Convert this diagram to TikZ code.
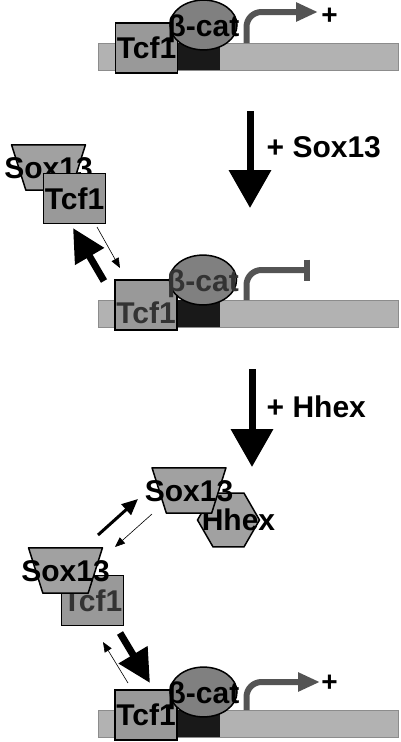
\documentclass[tikz,border=0pt]{standalone}
\usepackage{fontspec}
\setmainfont{Liberation Sans}
\usepackage{tikz}
\usetikzlibrary{shapes.geometric, arrows.meta}
\newcommand{\prot}{\fontsize{30}{30}\selectfont\bfseries}
\newcommand{\nw}[1]{\makebox[0pt]{#1}}
\tikzstyle{dna} = [rectangle, minimum width=300pt, minimum height=27pt, inner sep=0pt, draw=black!45, fill=black!30]
\tikzstyle{site} = [rectangle, minimum width=43pt, minimum height=27pt, inner sep=0pt, fill=black!90]
\tikzstyle{tcf} = [rectangle, minimum width=62pt, minimum height=50pt, inner sep=0pt, draw=black, line width=1.5pt, fill=black!40, font=\prot]
\tikzstyle{cat} = [ellipse, minimum width=67pt, minimum height=47pt, inner sep=0pt, text height=29pt, draw=black, line width=1.5pt, fill=black!50, font=\prot]
\tikzstyle{sox} = [trapezium, trapezium left angle=72.5, trapezium right angle=72.5, shape border rotate=180, text width=45pt, text height=33.5pt, text depth=11.5pt, align=center, inner sep=0pt, fill=black!37, font=\prot]
\tikzstyle{soxrim} = [line width=1.5pt, line join=round]
\tikzstyle{hhex} = [regular polygon, regular polygon sides=6, minimum size=62pt, inner sep=0pt, draw=black, line width=1.5pt, fill=black!37, font=\prot]
\tikzstyle{tss} = [line width=6pt, black!67, rounded corners=15pt]
\tikzstyle{bigdown} = [line width=7pt, -{Triangle[length=38pt,width=41pt]}]
\tikzstyle{thickarr} = [line width=7pt, -{Triangle[length=33pt,width=32pt]}]
\tikzstyle{midarr} = [line width=3pt, -{Triangle[length=16pt,width=14pt]}]
\tikzstyle{thinarr} = [line width=0.6pt, -{Triangle[length=10pt,width=8pt]}]
\tikzstyle{plus} = [inner sep=0pt, font=\fontsize{28}{28}\selectfont\bfseries]
\tikzstyle{addlabel} = [anchor=west, inner sep=0pt, font=\prot]

\begin{document}
\begin{tikzpicture}[x=1pt, y=-1pt]
    \useasboundingbox (0,0) rectangle (400,742);

    % Promoter, active
    \node[dna] (dna1) at (248, 56.5) {};
    \node[site] (site1) at (198.5, 56.5) {};
    \node[tcf] (tcf1) at (146.5, 48) {Tcf1};
    \node[cat] (cat1) at (203.5, 25) {\nw{β-cat}};
    \coordinate (tss1) at (246.5, 43);
    \coordinate (on1) at (318, 12);
    \draw[tss, -{Triangle[length=22pt,width=18pt]}] (tss1) |- (on1);
    \node[plus] (plus1) at (329.5, 16) {+};

    % + Sox13
    \coordinate (d1a) at (250, 111);
    \coordinate (d1b) at (250, 208);
    \draw[bigdown] (d1a) -- (d1b);
    \node[addlabel] (addsox) at (266.5, 147) {+ Sox13};

    % Sox13 takes Tcf1 off
    \node[sox] (sox2) at (48.5, 167.5) {\nw{Sox13}};
    \draw[soxrim] (sox2.bottom left corner) -- (sox2.top left corner) -- (sox2.top right corner) -- (sox2.bottom right corner) -- cycle;
    \node[tcf] (tcf2b) at (74.5, 198.5) {Tcf1};

    \node[dna] (dna2) at (248, 313.5) {};
    \node[site] (site2) at (198.5, 313.5) {};
    \node[tcf, text=black!80, text height=38pt] (tcf2a) at (146, 305) {Tcf1};
    \node[cat, text=black!80] (cat2) at (203, 280) {\nw{β-cat}};
    \coordinate (tss2) at (246.5, 300);
    \coordinate (off2) at (310, 270);
    \draw[tss, -{Bar[width=21pt]}] (tss2) |- (off2);

    \coordinate (out2a) at (104, 281);
    \coordinate (out2b) at (73, 228);
    \draw[thickarr] (out2a) -- (out2b);
    \coordinate (in2a) at (97, 227);
    \coordinate (in2b) at (120, 268);
    \draw[thinarr] (in2a) -- (in2b);

    % + Hhex
    \coordinate (d2a) at (252, 369);
    \coordinate (d2b) at (252, 467);
    \draw[bigdown] (d2a) -- (d2b);
    \node[addlabel] (addhhex) at (266.5, 407) {+ Hhex};

    % Hhex pulls Sox13 away
    \node[hhex] (hhex3) at (228.5, 520) {\nw{\hspace*{20pt}Hhex}};
    \node[sox] (sox3a) at (189, 490.5) {\nw{Sox13}};
    \draw[soxrim] (sox3a.bottom left corner) -- (sox3a.top left corner) -- (sox3a.top right corner) -- (sox3a.bottom right corner) -- cycle;

    \node[tcf, text=black!80] (tcf3b) at (92.5, 600.5) {Tcf1};
    \node[sox] (sox3b) at (65.5, 570.5) {\nw{Sox13}};
    \draw[soxrim] (sox3b.bottom left corner) -- (sox3b.top left corner) -- (sox3b.top right corner) -- (sox3b.bottom right corner) -- cycle;

    \coordinate (up3a) at (98, 535);
    \coordinate (up3b) at (138, 499);
    \draw[midarr] (up3a) -- (up3b);
    \coordinate (back3a) at (152, 514);
    \coordinate (back3b) at (115, 547);
    \draw[thinarr] (back3a) -- (back3b);

    \coordinate (on3a) at (120, 633);
    \coordinate (on3b) at (150, 683);
    \draw[thickarr] (on3a) -- (on3b);
    \coordinate (off3a) at (128, 683);
    \coordinate (off3b) at (103, 642);
    \draw[thinarr] (off3a) -- (off3b);

    % Promoter, active again
    \node[dna] (dna3) at (248, 723.5) {};
    \node[site] (site3) at (198.5, 723.5) {};
    \node[tcf] (tcf3a) at (146, 715) {Tcf1};
    \node[cat] (cat3) at (203.5, 692) {\nw{β-cat}};
    \coordinate (tss3) at (246.5, 710);
    \coordinate (on3) at (320, 682);
    \draw[tss, -{Triangle[length=22pt,width=18pt]}] (tss3) |- (on3);
    \node[plus] (plus3) at (329.5, 683) {+};
\end{tikzpicture}
\end{document}
